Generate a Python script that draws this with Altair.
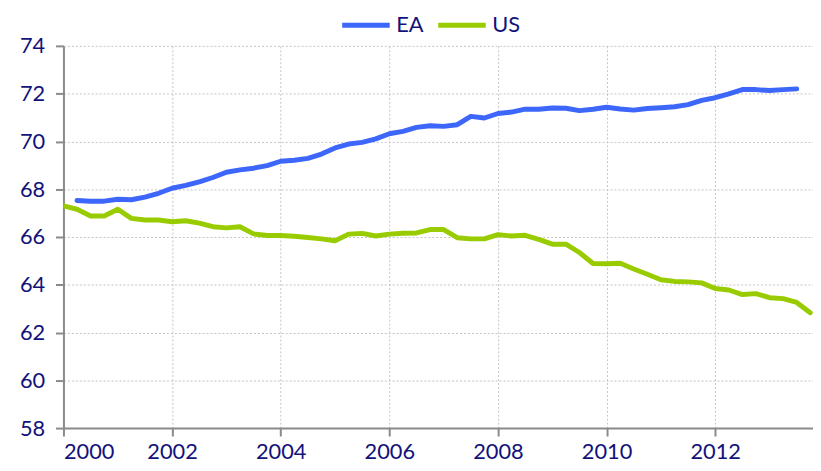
import altair as alt
import pandas as pd

years = list(range(2000, 2014))
quarters = [y + q * 0.25 for y in years for q in range(4)]

us_values = [
    67.30, 67.16, 66.88, 66.88,
    67.16, 66.78, 66.71, 66.71,
    66.64, 66.68, 66.58, 66.43,
    66.38, 66.43, 66.13, 66.06,
    66.06, 66.03, 65.98, 65.92,
    65.84, 66.12, 66.15, 66.04,
    66.12, 66.16, 66.17, 66.31,
    66.31, 65.97, 65.92, 65.92,
    66.10, 66.04, 66.07, 65.90,
    65.70, 65.70, 65.35, 64.89,
    64.88, 64.90, 64.66, 64.44,
    64.21, 64.14, 64.12, 64.08,
    63.84, 63.78, 63.59, 63.63,
    63.46, 63.42, 63.26, 62.83,
]

ea_values = [
    67.53, 67.50, 67.50,
    67.58, 67.56, 67.67, 67.83,
    68.04, 68.16, 68.31, 68.49,
    68.71, 68.81, 68.88, 68.99,
    69.17, 69.21, 69.29, 69.47,
    69.73, 69.89, 69.96, 70.11,
    70.32, 70.42, 70.59, 70.66,
    70.63, 70.70, 71.05, 70.98,
    71.17, 71.23, 71.35, 71.35,
    71.40, 71.39, 71.29, 71.35,
    71.43, 71.36, 71.31, 71.38,
    71.41, 71.45, 71.54, 71.72,
    71.83, 71.99, 72.17, 72.17,
    72.13, 72.17, 72.20,
]

ea_quarters = quarters[1:1 + len(ea_values)]
us_quarters = quarters[:len(us_values)]

series = ["EA", "US"]
colors = ["#3d66fb", "#99cc00"]
x_ticks = list(range(2000, 2013, 2))
y_ticks = list(range(58, 75, 2))

rows = [{"t": t, "v": v, "s": "EA"} for t, v in zip(ea_quarters, ea_values)]
rows += [{"t": t, "v": v, "s": "US"} for t, v in zip(us_quarters, us_values)]
df = pd.DataFrame(rows)

navy = "#12127a"
font = "Lato"

chart = (
    alt.Chart(df)
    .mark_line(strokeWidth=5, clip=True, strokeCap="round", strokeJoin="round")
    .encode(
        x=alt.X(
            "t:Q",
            scale=alt.Scale(domain=[2000, 2013.8], nice=False, zero=False),
            axis=alt.Axis(values=x_ticks, format="d", title=None, labelPadding=6),
        ),
        y=alt.Y(
            "v:Q",
            scale=alt.Scale(domain=[58, 74], nice=False, zero=False),
            axis=alt.Axis(values=y_ticks, title=None, labelPadding=11),
        ),
        color=alt.Color(
            "s:N",
            scale=alt.Scale(domain=series, range=colors),
            legend=alt.Legend(
                title=None,
                orient="none",
                direction="horizontal",
                legendX=279,
                legendY=-47.5,
                symbolType="stroke",
                symbolSize=2304,
                symbolStrokeWidth=5,
                labelFont=font,
                labelFontSize=22,
                labelColor=navy,
                labelOffset=4,
                columnPadding=4,
                padding=0,
            ),
        ),
    )
    .properties(
        width=757,
        height=386,
        autosize=alt.AutoSizeParams(type="none"),
        padding={"left": 56, "top": 36, "right": 0, "bottom": 33},
    )
    .configure_view(stroke=None)
    .configure_axis(
        domainColor="#8a8a8a",
        domainWidth=2,
        tickColor="#8a8a8a",
        tickWidth=2,
        tickSize=8,
        gridColor="#c4c4c4",
        gridDash=[2, 2],
        gridWidth=1,
        labelColor=navy,
        labelFont=font,
        labelFontSize=22,
    )
)

chart.save("out.html", embed_options={"renderer": "svg", "actions": False})
